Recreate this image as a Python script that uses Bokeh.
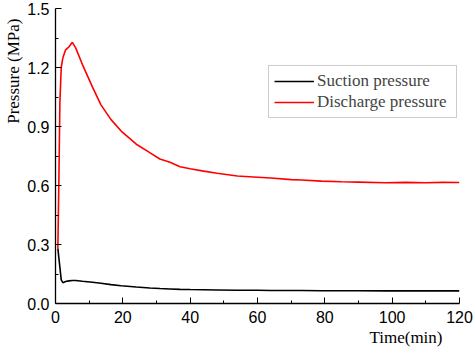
from bokeh.plotting import figure
from bokeh.embed import file_html
from bokeh.resources import INLINE
from bokeh.models import FixedTicker, Range1d, Legend, LegendItem, Title, CustomJSTickFormatter

# Data
time_min = [0.7, 1.0, 1.3, 1.7, 2.2, 3, 4, 5, 6, 8, 11, 13.5, 16.5, 19.5, 24, 28, 31, 34, 37,
            40, 44, 48, 54, 60, 64, 70, 73, 79, 85, 90, 98, 104, 110, 115, 120]
suction = [0.28, 0.232, 0.185, 0.12, 0.106, 0.112, 0.115, 0.117, 0.117, 0.113, 0.108, 0.103,
           0.096, 0.090, 0.084, 0.079, 0.076, 0.074, 0.072, 0.071, 0.070, 0.069, 0.067, 0.067,
           0.066, 0.066, 0.066, 0.065, 0.065, 0.065, 0.064, 0.064, 0.064, 0.064, 0.064]
discharge = [0.28, 0.62, 1.02, 1.20, 1.25, 1.29, 1.305, 1.328, 1.30, 1.215, 1.10, 1.01, 0.935,
             0.877, 0.81, 0.767, 0.735, 0.718, 0.695, 0.685, 0.673, 0.662, 0.648, 0.642, 0.638,
             0.630, 0.628, 0.622, 0.619, 0.617, 0.614, 0.616, 0.614, 0.616, 0.615]
x_ticks = [0, 20, 40, 60, 80, 100, 120]
x_minor = [10, 30, 50, 70, 90, 110]
y_ticks = [0.0, 0.3, 0.6, 0.9, 1.2, 1.5]
y_minor = [0.15, 0.45, 0.75, 1.05, 1.35]

p = figure(width=474, height=348, output_backend="svg", toolbar_location=None,
           x_range=Range1d(0, 120), y_range=Range1d(0, 1.5))
p.min_border_left = 55
p.min_border_right = 15
p.min_border_top = 8
p.min_border_bottom = 45
p.outline_line_color = None
p.grid.visible = False
p.background_fill_color = "white"
p.border_fill_color = "white"

r1 = p.line(time_min, suction, line_color="black", line_width=1.6)
r2 = p.line(time_min, discharge, line_color="#ff0000", line_width=1.6)

p.xaxis.ticker = FixedTicker(ticks=x_ticks, minor_ticks=x_minor)
p.yaxis.ticker = FixedTicker(ticks=y_ticks, minor_ticks=y_minor)
p.yaxis.formatter = CustomJSTickFormatter(code="return tick.toFixed(1);")

for ax in (p.xaxis, p.yaxis):
    ax.axis_line_color = "black"
    ax.axis_line_width = 1.3
    ax.major_tick_in = 6
    ax.major_tick_out = 0
    ax.minor_tick_in = 3
    ax.minor_tick_out = 0
    ax.major_tick_line_color = "black"
    ax.minor_tick_line_color = "black"
    ax.major_label_text_font = "Liberation Sans"
    ax.major_label_text_font_size = "16px"
    ax.major_label_text_color = "black"
p.xaxis.major_label_standoff = 7
p.yaxis.major_label_standoff = 6

legend = Legend(items=[LegendItem(label="Suction pressure", renderers=[r1]),
                       LegendItem(label="Discharge pressure", renderers=[r2])],
                location=(213, 185))
legend.label_text_font = "Liberation Serif"
legend.label_text_font_size = "17px"
legend.border_line_color = "#999999"
legend.border_line_width = 1
legend.glyph_width = 40
legend.glyph_height = 18
legend.label_height = 18
legend.label_width = 134
legend.label_standoff = 3
legend.padding = 5
legend.spacing = 1
legend.margin = 0
legend.background_fill_alpha = 1
p.add_layout(legend, "center")

xt = Title(text="Time(min)", align="right", offset=17, standoff=0,
           text_font="Liberation Serif", text_font_size="17px", text_font_style="normal",
           text_color="black")
p.add_layout(xt, "below")
yt = Title(text="Pressure (MPa)", align="right", offset=10, standoff=0, vertical_align="top",
           text_font="Liberation Serif", text_font_size="17px", text_font_style="normal",
           text_color="black")
p.add_layout(yt, "left")

open("out.html", "w").write(file_html(p, INLINE))
